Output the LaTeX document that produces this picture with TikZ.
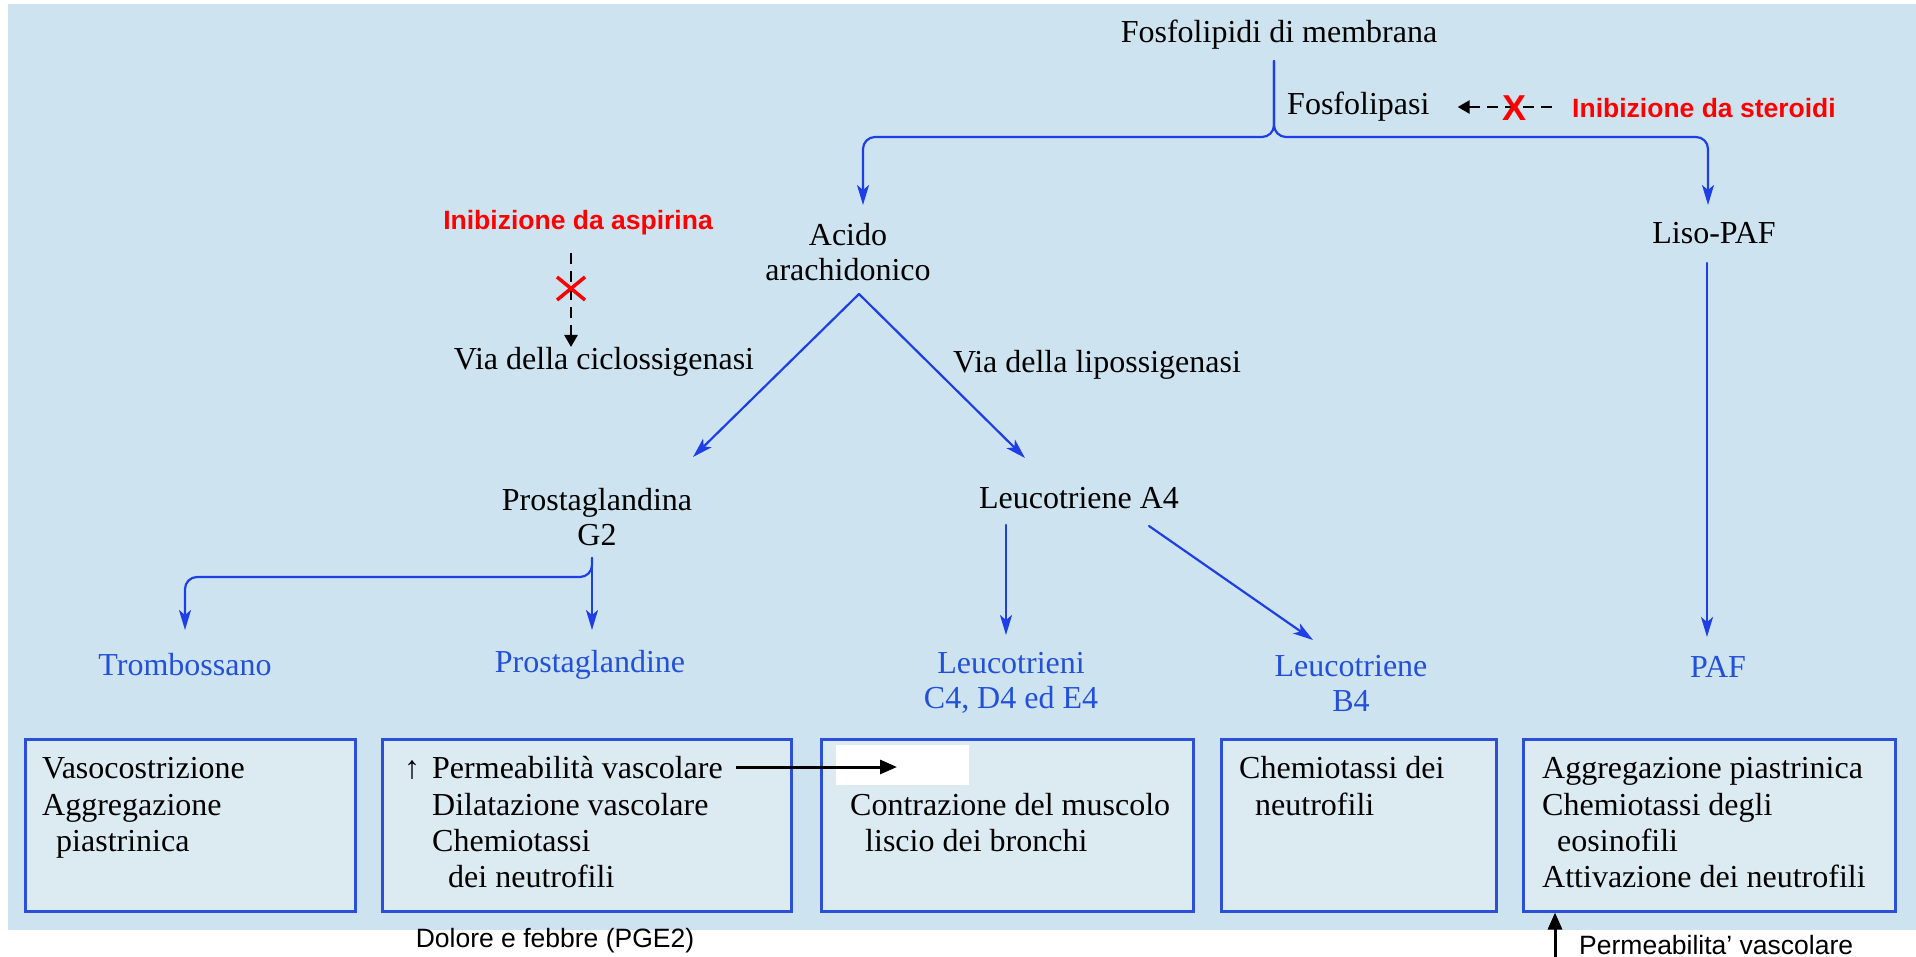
\documentclass[tikz,border=0pt]{standalone}
\usepackage{fontspec}
\setmainfont{Liberation Serif}
\newfontfamily\arialf{Liberation Sans}
\usetikzlibrary{arrows.meta}
\definecolor{bgblue}{HTML}{CDE3F0}
\definecolor{boxfill}{HTML}{DCEAF2}
\definecolor{lineblue}{HTML}{1E3FE6}
\definecolor{txtblue}{HTML}{2350D8}
\definecolor{boxblue}{HTML}{2B4FD9}
\definecolor{inhred}{HTML}{FF0000}
\begin{document}
\begin{tikzpicture}[x=1pt,y=-1pt,
  txt/.style={font=\fontsize{32}{35}\selectfont, inner sep=0pt, align=center},
  ltxt/.style={font=\fontsize{32}{36}\selectfont, inner sep=0pt, anchor=base west},
  btxt/.style={txt, text=txtblue},
  redtxt/.style={font=\arialf\bfseries\fontsize{26.5}{30}\selectfont, text=inhred, inner sep=0pt},
  sanstxt/.style={font=\arialf\fontsize{26.5}{30}\selectfont, inner sep=0pt},
  flow/.style={draw=lineblue, line width=2.2pt, line cap=round, -{Stealth[length=20pt,width=12pt,inset=5pt]}},
  effbox/.style={draw=boxblue, line width=2.5pt, fill=boxfill, inner sep=0pt, anchor=north west, minimum height=172pt},
  inhib/.style={draw=black, line width=2.5pt, dash pattern=on 11pt off 7pt, -{Triangle[length=12pt,width=13pt]}},
  cross/.style={draw=inhred, line width=3.5pt},
  karrow/.style={draw=black, line width=3pt, -{Triangle[length=17pt,width=14pt]}},
]
\useasboundingbox (0,0) rectangle (1916,957);
\fill[bgblue] (8,4) rectangle (1916,930);

% ---- top
\node[txt] (fosfo) at (1279,35) {Fosfolipidi di membrana};
\node[txt, anchor=west] (fosfolipasi) at (1287,107) {Fosfolipasi};
\coordinate (f0) at (1274,61);
\coordinate (aL) at (863,137);
\coordinate (aR) at (1708,137);
\coordinate (acidoIn) at (863,205);
\coordinate (lisoIn) at (1708,205);
\draw[flow, rounded corners=12pt] (f0) |- (aL) -- (acidoIn);
\draw[flow, rounded corners=12pt] (f0) |- (aR) -- (lisoIn);

% steroid inhibition
\node[redtxt, anchor=west] (steroidi) at (1572,108) {Inibizione da steroidi};
\coordinate (st0) at (1552,107);
\draw[inhib] (st0) -- ([xshift=28pt]fosfolipasi.east |- st0);
\node[text=inhred, font=\arialf\bfseries\fontsize{36}{36}\selectfont, inner sep=0pt] (xst) at (1514,108) {X};

% acido / liso
\node[txt] (acido) at (848,252) {Acido\\arachidonico};
\node[txt] (liso) at (1714,233) {Liso-PAF};
\coordinate (liso0) at (1707,263);
\coordinate (pafIn) at (1707,637);
\draw[flow] (liso0) -- (pafIn);

% aspirin inhibition
\node[redtxt] (aspirina) at (578,223) {Inibizione da aspirina};
\node[txt] (ciclo) at (604,362) {Via della ciclossigenasi};
\node[txt] (lipo) at (1097,365) {Via della lipossigenasi};
\coordinate (asp0) at (571,253);
\coordinate (cicloIn) at (571,347);
\draw[inhib] (asp0) -- (cicloIn);
\draw[cross] (557,277) -- (585,300);
\draw[cross] (557,300) -- (585,277);

% split of arachidonic acid
\coordinate (apex) at (859,294);
\coordinate (pgIn) at (693,457);
\coordinate (ltIn) at (1025,458);
\draw[flow] (apex) -- (pgIn);
\draw[flow] (apex) -- (ltIn);

% prostaglandina G2
\node[txt] (pg) at (597,517) {Prostaglandina\\G2};
\coordinate (g0) at (592,558);
\coordinate (tL) at (185,577);
\coordinate (tromIn) at (185,630);
\coordinate (prostIn) at (592,630);
\draw[flow] (g0) -- (prostIn);
\draw[flow, rounded corners=12pt] (g0) |- (tL) -- (tromIn);

% leucotriene A4
\node[txt] (la4) at (1079,498) {Leucotriene A4};
\coordinate (la0) at (1006,525);
\coordinate (ltcIn) at (1006,635);
\coordinate (la1) at (1149,526);
\coordinate (ltbIn) at (1313,640);
\draw[flow] (la0) -- (ltcIn);
\draw[flow] (la1) -- (ltbIn);

% blue products
\node[btxt] (trom) at (185,665) {Trombossano};
\node[btxt] (prost) at (590,665) {Prostaglandine};
\node[btxt] (ltc) at (1011,683) {Leucotrieni\\C4, D4 ed E4};
\node[btxt] (ltb) at (1351,683) {Leucotriene\\B4};
\node[btxt] (paf) at (1718,667) {PAF};

% effect boxes
\node[effbox, minimum width=330pt] (box1) at (24,738) {};
\node[effbox, minimum width=409pt] (box2) at (381,738) {};
\node[effbox, minimum width=372pt] (box3) at (820,738) {};
\node[effbox, minimum width=275pt] (box4) at (1220,738) {};
\node[effbox, minimum width=372pt] (box5) at (1522,738) {};

% box 1
\node[ltxt] (b1a) at (42,778) {Vasocostrizione};
\node[ltxt] (b1b) at (42,815) {Aggregazione};
\node[ltxt] (b1c) at (56,851) {piastrinica};
% box 2
\node[ltxt] (b2up) at (404,778) {↑};
\node[ltxt] (perm) at (432,778) {Permeabilità vascolare};
\node[ltxt] (b2b) at (432,815) {Dilatazione vascolare};
\node[ltxt] (b2c) at (432,851) {Chemiotassi};
\node[ltxt] (b2d) at (448,887) {dei neutrofili};
% box 3
\fill[white] (836,745) rectangle (969,785);
\node[ltxt] (b3a) at (850,815) {Contrazione del muscolo};
\node[ltxt] (b3b) at (865,851) {liscio dei bronchi};
\coordinate (permEnd) at (897,767);
\draw[karrow] ([xshift=13pt]perm.east |- permEnd) -- (permEnd);
% box 4
\node[ltxt] (b4a) at (1239,778) {Chemiotassi dei};
\node[ltxt] (b4b) at (1255,815) {neutrofili};
% box 5
\node[ltxt] (b5a) at (1542,778) {Aggregazione piastrinica};
\node[ltxt] (b5b) at (1542,815) {Chemiotassi degli};
\node[ltxt] (b5c) at (1557,851) {eosinofili};
\node[ltxt] (b5d) at (1542,887) {Attivazione dei neutrofili};

% bottom notes
\node[sanstxt] (dolore) at (555,941) {Dolore e febbre (PGE2)};
\node[sanstxt, anchor=west] (permv) at (1579,945) {Permeabilita’ vascolare};
\coordinate (pv0) at (1555,957);
\draw[karrow] (pv0) -- (box5.south -| pv0);
\end{tikzpicture}
\end{document}
